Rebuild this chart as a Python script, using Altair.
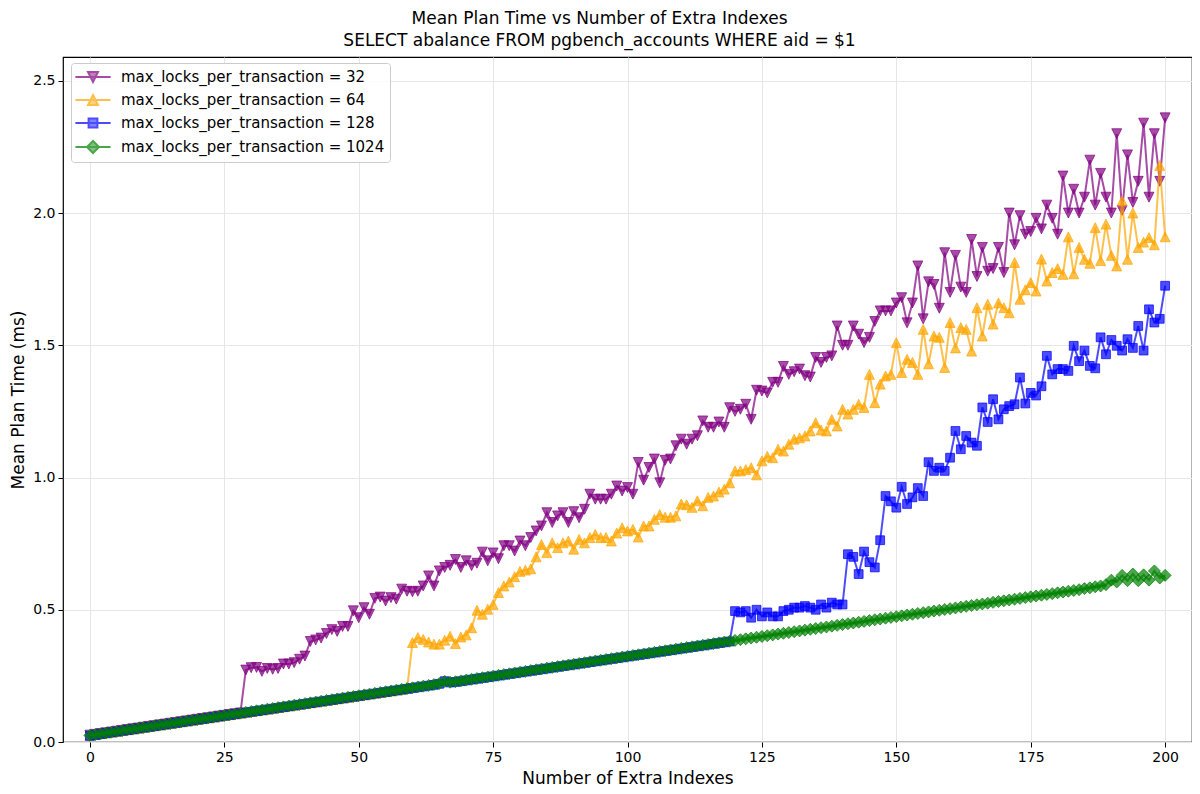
import altair as alt
import pandas as pd

x_vals = list(range(201))

s32 = [
    0.026, 0.029, 0.032, 0.035, 0.038, 0.041, 0.044, 0.047, 0.050, 0.053,
    0.056, 0.059, 0.062, 0.065, 0.068, 0.071, 0.074, 0.077, 0.080, 0.083,
    0.086, 0.089, 0.092, 0.095, 0.098, 0.101, 0.104, 0.107, 0.110, 0.272,
    0.281, 0.282, 0.267, 0.278, 0.275, 0.278, 0.295, 0.295, 0.300, 0.313,
    0.325, 0.380, 0.386, 0.393, 0.410, 0.425, 0.418, 0.437, 0.437, 0.496,
    0.470, 0.508, 0.483, 0.543, 0.548, 0.533, 0.546, 0.540, 0.578, 0.570,
    0.568, 0.570, 0.590, 0.628, 0.590, 0.647, 0.660, 0.668, 0.690, 0.660,
    0.685, 0.667, 0.676, 0.718, 0.685, 0.715, 0.693, 0.742, 0.742, 0.722,
    0.760, 0.742, 0.773, 0.798, 0.817, 0.867, 0.830, 0.855, 0.867, 0.830,
    0.871, 0.848, 0.880, 0.937, 0.918, 0.918, 0.918, 0.937, 0.968, 0.949,
    0.962, 0.937, 1.057, 0.990, 1.038, 1.070, 0.980, 1.065, 1.070, 1.120,
    1.145, 1.126, 1.145, 1.158, 1.214, 1.190, 1.190, 1.210, 1.190, 1.264,
    1.250, 1.258, 1.277, 1.220, 1.330, 1.327, 1.320, 1.360, 1.360, 1.420,
    1.390, 1.400, 1.410, 1.385, 1.380, 1.454, 1.435, 1.454, 1.460, 1.573,
    1.500, 1.500, 1.573, 1.542, 1.510, 1.530, 1.590, 1.630, 1.630, 1.630,
    1.660, 1.680, 1.585, 1.660, 1.800, 1.600, 1.740, 1.730, 1.640, 1.850,
    1.700, 1.840, 1.720, 1.700, 1.900, 1.760, 1.870, 1.780, 1.790, 1.870,
    1.775, 2.000, 1.880, 1.990, 1.920, 1.930, 1.980, 1.940, 2.030, 1.980,
    1.920, 2.140, 2.000, 2.090, 2.000, 2.060, 2.200, 2.030, 2.150, 2.060,
    2.000, 2.300, 2.010, 2.220, 2.040, 2.120, 2.340, 2.060, 2.300, 2.120,
    2.360,
]

s64 = [
    0.025, 0.028, 0.031, 0.034, 0.037, 0.040, 0.043, 0.046, 0.049, 0.052,
    0.055, 0.058, 0.061, 0.064, 0.067, 0.070, 0.073, 0.076, 0.079, 0.082,
    0.085, 0.088, 0.091, 0.094, 0.097, 0.100, 0.103, 0.106, 0.109, 0.112,
    0.115, 0.118, 0.121, 0.124, 0.127, 0.130, 0.133, 0.136, 0.139, 0.142,
    0.145, 0.148, 0.151, 0.154, 0.157, 0.160, 0.163, 0.166, 0.169, 0.172,
    0.175, 0.178, 0.181, 0.184, 0.187, 0.190, 0.193, 0.196, 0.199, 0.202,
    0.376, 0.395, 0.388, 0.378, 0.370, 0.370, 0.385, 0.400, 0.372, 0.397,
    0.405, 0.432, 0.498, 0.483, 0.502, 0.520, 0.565, 0.590, 0.605, 0.625,
    0.645, 0.650, 0.655, 0.700, 0.747, 0.716, 0.753, 0.735, 0.753, 0.760,
    0.729, 0.766, 0.753, 0.773, 0.785, 0.773, 0.773, 0.760, 0.790, 0.810,
    0.798, 0.804, 0.775, 0.817, 0.817, 0.842, 0.860, 0.850, 0.850, 0.855,
    0.900, 0.897, 0.887, 0.912, 0.893, 0.925, 0.930, 0.945, 0.956, 0.980,
    1.025, 1.025, 1.030, 1.037, 1.010, 1.063, 1.080, 1.075, 1.107, 1.100,
    1.126, 1.145, 1.150, 1.157, 1.176, 1.207, 1.180, 1.176, 1.220, 1.195,
    1.258, 1.240, 1.258, 1.277, 1.265, 1.390, 1.283, 1.353, 1.384, 1.390,
    1.510, 1.397, 1.447, 1.435, 1.390, 1.560, 1.430, 1.535, 1.530, 1.416,
    1.586, 1.490, 1.567, 1.560, 1.478, 1.642, 1.535, 1.655, 1.580, 1.660,
    1.642, 1.623, 1.813, 1.674, 1.710, 1.737, 1.705, 1.826, 1.743, 1.775,
    1.790, 1.768, 1.910, 1.770, 1.870, 1.825, 1.810, 1.945, 1.820, 1.958,
    1.840, 1.800, 2.046, 1.825, 2.000, 1.870, 1.890, 1.907, 1.880, 2.180,
    1.910,
]

s128 = [
    0.023, 0.026, 0.030, 0.033, 0.036, 0.039, 0.042, 0.045, 0.048, 0.051,
    0.054, 0.057, 0.060, 0.063, 0.066, 0.069, 0.072, 0.075, 0.078, 0.081,
    0.084, 0.087, 0.090, 0.093, 0.096, 0.099, 0.102, 0.105, 0.108, 0.111,
    0.114, 0.117, 0.120, 0.123, 0.126, 0.129, 0.132, 0.135, 0.138, 0.141,
    0.144, 0.147, 0.150, 0.153, 0.156, 0.159, 0.162, 0.165, 0.168, 0.171,
    0.174, 0.177, 0.180, 0.183, 0.186, 0.189, 0.192, 0.195, 0.198, 0.201,
    0.204, 0.207, 0.210, 0.213, 0.216, 0.220, 0.230, 0.225, 0.227, 0.230,
    0.233, 0.236, 0.239, 0.242, 0.245, 0.248, 0.251, 0.254, 0.257, 0.260,
    0.263, 0.266, 0.269, 0.272, 0.275, 0.278, 0.281, 0.284, 0.287, 0.290,
    0.293, 0.296, 0.299, 0.302, 0.305, 0.308, 0.311, 0.314, 0.317, 0.320,
    0.323, 0.326, 0.329, 0.332, 0.335, 0.338, 0.341, 0.344, 0.347, 0.350,
    0.353, 0.356, 0.359, 0.362, 0.365, 0.368, 0.371, 0.374, 0.377, 0.380,
    0.495, 0.490, 0.495, 0.470, 0.500, 0.475, 0.490, 0.475, 0.475, 0.495,
    0.500, 0.508, 0.508, 0.514, 0.508, 0.500, 0.520, 0.508, 0.527, 0.520,
    0.520, 0.710, 0.700, 0.635, 0.720, 0.680, 0.660, 0.763, 0.930, 0.910,
    0.886, 0.965, 0.900, 0.925, 0.960, 0.930, 1.058, 1.025, 1.037, 1.025,
    1.075, 1.176, 1.107, 1.157, 1.132, 1.120, 1.265, 1.210, 1.296, 1.220,
    1.258, 1.270, 1.277, 1.378, 1.280, 1.320, 1.310, 1.345, 1.460, 1.390,
    1.410, 1.410, 1.403, 1.498, 1.440, 1.480, 1.422, 1.413, 1.530, 1.466,
    1.520, 1.498, 1.480, 1.523, 1.490, 1.573, 1.480, 1.636, 1.586, 1.600,
    1.725,
]

s1024 = [
    0.025, 0.028, 0.031, 0.034, 0.037, 0.040, 0.043, 0.046, 0.049, 0.052,
    0.055, 0.058, 0.061, 0.064, 0.067, 0.070, 0.073, 0.076, 0.079, 0.082,
    0.085, 0.088, 0.091, 0.094, 0.097, 0.100, 0.103, 0.106, 0.109, 0.112,
    0.115, 0.118, 0.121, 0.124, 0.127, 0.130, 0.133, 0.136, 0.139, 0.142,
    0.145, 0.148, 0.151, 0.154, 0.157, 0.160, 0.163, 0.166, 0.169, 0.172,
    0.175, 0.178, 0.181, 0.184, 0.187, 0.190, 0.193, 0.196, 0.199, 0.202,
    0.205, 0.208, 0.211, 0.214, 0.217, 0.221, 0.229, 0.226, 0.228, 0.231,
    0.234, 0.237, 0.240, 0.243, 0.246, 0.249, 0.252, 0.255, 0.258, 0.261,
    0.264, 0.267, 0.270, 0.273, 0.276, 0.279, 0.282, 0.285, 0.288, 0.291,
    0.294, 0.297, 0.300, 0.303, 0.306, 0.309, 0.312, 0.315, 0.318, 0.321,
    0.324, 0.327, 0.330, 0.333, 0.336, 0.339, 0.342, 0.345, 0.348, 0.351,
    0.354, 0.357, 0.360, 0.363, 0.366, 0.369, 0.372, 0.375, 0.378, 0.381,
    0.384, 0.387, 0.390, 0.393, 0.396, 0.399, 0.402, 0.405, 0.408, 0.411,
    0.414, 0.417, 0.420, 0.423, 0.426, 0.429, 0.432, 0.435, 0.438, 0.441,
    0.444, 0.447, 0.450, 0.453, 0.456, 0.459, 0.462, 0.465, 0.468, 0.471,
    0.474, 0.477, 0.480, 0.483, 0.486, 0.489, 0.492, 0.495, 0.498, 0.501,
    0.504, 0.507, 0.510, 0.513, 0.516, 0.519, 0.522, 0.525, 0.528, 0.531,
    0.534, 0.537, 0.540, 0.543, 0.546, 0.549, 0.552, 0.555, 0.558, 0.561,
    0.564, 0.567, 0.570, 0.573, 0.576, 0.580, 0.583, 0.587, 0.590, 0.595,
    0.612, 0.605, 0.630, 0.610, 0.635, 0.610, 0.632, 0.612, 0.647, 0.620,
    0.630,
]

names = [
    "max_locks_per_transaction = 32",
    "max_locks_per_transaction = 64",
    "max_locks_per_transaction = 128",
    "max_locks_per_transaction = 1024",
]
colors = ["#800080", "#FFA500", "#0000FF", "#008000"]
marker_paths = [
    "M-0.62,-0.62L0.62,-0.62L0,0.62Z",
    "M-0.62,0.62L0.62,0.62L0,-0.62Z",
    "M-0.55,-0.55L0.55,-0.55L0.55,0.55L-0.55,0.55Z",
    "M0,-0.75L0.75,0L0,0.75L-0.75,0Z",
]
legend_paths = ["M-2.2,0L2.2,0" + p for p in marker_paths]

x_ticks = [0, 25, 50, 75, 100, 125, 150, 175, 200]
y_ticks = [0.0, 0.5, 1.0, 1.5, 2.0, 2.5]

rows = []
for name, vals in zip(names, [s32, s64, s128, s1024]):
    for xv, yv in zip(x_vals, vals):
        rows.append({"n": xv, "t": yv, "series": name})
df = pd.DataFrame(rows)

FONT = "DejaVu Sans"

xscale = alt.Scale(domain=[-5, 205], nice=False, zero=False)
yscale = alt.Scale(domain=[0, 2.59], nice=False)

xenc = alt.X(
    "n:Q",
    scale=xscale,
    axis=alt.Axis(values=x_ticks, title="Number of Extra Indexes", format="d",
                  labelPadding=3, titlePadding=6),
)
yenc = alt.Y(
    "t:Q",
    scale=yscale,
    axis=alt.Axis(values=y_ticks, title="Mean Plan Time (ms)", format=".1f",
                  labelPadding=3, titlePadding=5),
)

legend_cfg = alt.Legend(
    title=None,
    orient="none",
    legendX=8,
    legendY=6,
    padding=5,
    symbolOffset=8,
    labelOffset=19,
    rowPadding=5,
    labelFontSize=15,
    labelFont=FONT,
    labelColor="black",
    labelLimit=400,
    strokeColor="#cccccc",
    fillColor="rgba(255,255,255,0.85)",
    cornerRadius=3,
    symbolSize=256,
    symbolStrokeWidth=2,
)

base = alt.Chart(df)
layers = []
for name, path, col in zip(names, marker_paths, colors):
    sub = base.transform_filter(alt.datum.series == name)
    line = sub.mark_line(strokeWidth=2, opacity=0.7, color=col).encode(x=xenc, y=yenc)
    pts = sub.mark_point(
        shape=path, filled=True, size=256, opacity=1,
        fill=col, stroke=col,
        fillOpacity=0.7, strokeOpacity=0.7, strokeWidth=1,
    ).encode(x=xenc, y=yenc)
    layers += [line, pts]

legend_layer = base.transform_filter("false").mark_point(
    filled=True, size=256, strokeWidth=2, opacity=0.7
).encode(
    fill=alt.Fill("series:N", scale=alt.Scale(domain=names, range=colors), legend=legend_cfg),
    stroke=alt.Stroke("series:N", scale=alt.Scale(domain=names, range=colors), legend=legend_cfg),
    shape=alt.Shape("series:N", scale=alt.Scale(domain=names, range=legend_paths), legend=legend_cfg),
)
layers.append(legend_layer)

chart = alt.layer(*layers).properties(
    width=1129,
    height=685,
    padding={"left": 55, "top": 49, "right": 0, "bottom": 44},
    autosize=alt.AutoSizeParams(type="none"),
    title=alt.TitleParams(
        text=["Mean Plan Time vs Number of Extra Indexes",
              "SELECT abalance FROM pgbench_accounts WHERE aid = $1"],
        fontSize=17,
        font=FONT,
        fontWeight="normal",
        color="black",
        anchor="middle",
        dx=-28,
        offset=7,
        lineHeight=22,
    ),
).configure_view(
    stroke="black", strokeWidth=1.2
).configure_axis(
    domain=False,
    grid=True,
    gridColor="#e6e6e6",
    gridWidth=1,
    tickColor="black",
    tickSize=5,
    tickWidth=1,
    labelFont=FONT,
    labelFontSize=14,
    labelColor="black",
    titleFont=FONT,
    titleFontSize=17,
    titleFontWeight="normal",
    titleColor="black",
)

chart.save("out.html", embed_options={"renderer": "svg", "actions": False})
